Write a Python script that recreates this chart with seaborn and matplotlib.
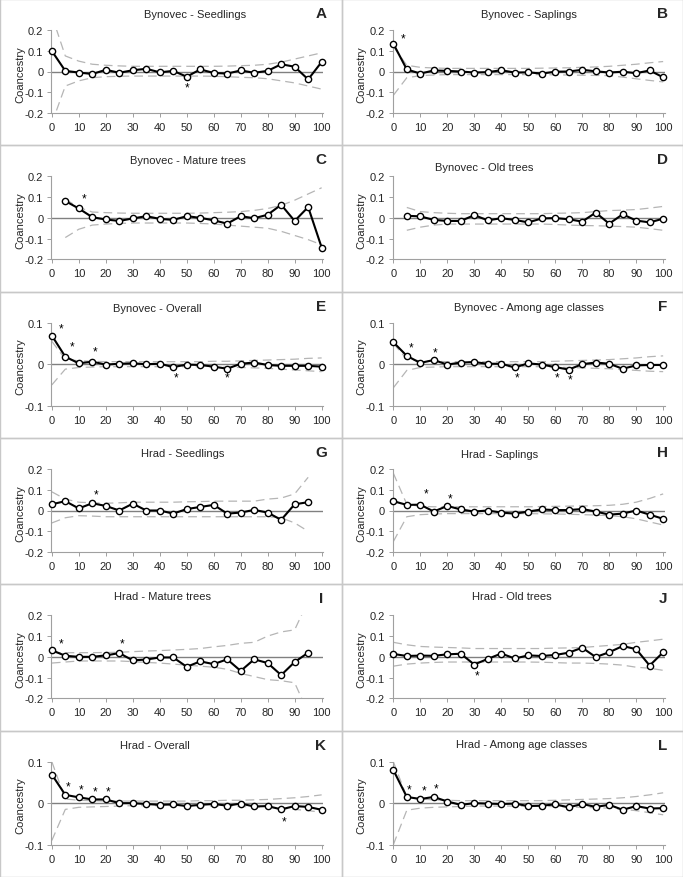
import numpy as np
import pandas as pd
import matplotlib
matplotlib.use("Agg")
import matplotlib.pyplot as plt
import seaborn as sns
from matplotlib.patches import Rectangle

# distance classes (m)
dist_full = [0, 5, 10, 15, 20, 25, 30, 35, 40, 45, 50, 55, 60, 65, 70, 75, 80, 85, 90, 95, 100]
dist_from5 = [5, 10, 15, 20, 25, 30, 35, 40, 45, 50, 55, 60, 65, 70, 75, 80, 85, 90, 95, 100]
dist_to95 = [0, 5, 10, 15, 20, 25, 30, 35, 40, 45, 50, 55, 60, 65, 70, 75, 80, 85, 90, 95]

# ---- Bynovec ----
coan_A = [0.099, 0.003, -0.005, -0.012, 0.008, -0.006, 0.006, 0.013, -0.004, 0.003, -0.025,
          0.010, -0.007, -0.010, 0.005, -0.006, 0.003, 0.035, 0.023, -0.038, 0.046]
up_A = [0.27, 0.075, 0.05, 0.035, 0.03, 0.027, 0.025, 0.025, 0.025, 0.025, 0.025,
        0.025, 0.025, 0.026, 0.028, 0.03, 0.035, 0.045, 0.06, 0.075, 0.09]
lo_A = [-0.25, -0.07, -0.045, -0.03, -0.025, -0.023, -0.022, -0.022, -0.022, -0.022, -0.022,
        -0.022, -0.023, -0.025, -0.028, -0.03, -0.035, -0.045, -0.055, -0.07, -0.085]
star_A = [(50, -0.075)]

coan_B = [0.134, 0.010, -0.010, 0.005, 0.003, 0.000, -0.005, -0.003, 0.006, -0.005, -0.004,
          -0.010, -0.001, 0.000, 0.008, 0.001, -0.005, -0.001, -0.008, 0.005, -0.028]
up_B = [0.12, 0.03, 0.02, 0.017, 0.015, 0.015, 0.015, 0.015, 0.015, 0.015, 0.015,
        0.016, 0.017, 0.018, 0.02, 0.022, 0.025, 0.03, 0.035, 0.042, 0.048]
lo_B = [-0.115, -0.03, -0.02, -0.017, -0.015, -0.015, -0.015, -0.015, -0.015, -0.015, -0.015,
        -0.015, -0.016, -0.017, -0.018, -0.019, -0.02, -0.027, -0.035, -0.043, -0.05]
star_B = [(3.5, 0.16)]

coan_C = [0.081, 0.045, 0.003, -0.008, -0.015, -0.003, 0.008, -0.005, -0.010, 0.008,
          0.000, -0.012, -0.028, 0.008, -0.002, 0.015, 0.063, -0.015, 0.052, -0.143]
up_C = [0.09, 0.05, 0.028, 0.025, 0.023, 0.022, 0.022, 0.022, 0.022, 0.022,
        0.023, 0.025, 0.027, 0.03, 0.036, 0.045, 0.06, 0.085, 0.115, 0.145]
lo_C = [-0.095, -0.055, -0.035, -0.03, -0.027, -0.025, -0.025, -0.025, -0.025, -0.025,
        -0.027, -0.03, -0.035, -0.04, -0.045, -0.05, -0.065, -0.085, -0.105, -0.13]
star_C = [(12, 0.095)]

coan_D = [0.010, 0.007, -0.010, -0.015, -0.015, 0.013, -0.012, -0.002, -0.010, -0.022,
          -0.003, -0.001, -0.007, -0.018, 0.025, -0.028, 0.017, -0.013, -0.022, -0.004]
up_D = [0.05, 0.03, 0.025, 0.022, 0.02, 0.02, 0.02, 0.02, 0.02, 0.02,
        0.02, 0.022, 0.023, 0.025, 0.03, 0.035, 0.037, 0.04, 0.047, 0.055]
lo_D = [-0.06, -0.045, -0.035, -0.03, -0.03, -0.03, -0.03, -0.03, -0.03, -0.03,
        -0.03, -0.032, -0.035, -0.037, -0.038, -0.04, -0.042, -0.045, -0.052, -0.06]
star_D = []

coan_E = [0.069, 0.018, 0.002, 0.006, -0.001, 0.001, 0.002, 0.000, 0.001, -0.007, -0.001,
          -0.002, -0.006, -0.011, 0.001, 0.004, -0.002, -0.004, -0.004, -0.004, -0.006]
up_E = [0.055, 0.012, 0.008, 0.007, 0.006, 0.006, 0.006, 0.006, 0.006, 0.006, 0.006,
        0.006, 0.007, 0.007, 0.008, 0.009, 0.01, 0.011, 0.012, 0.014, 0.015]
lo_E = [-0.05, -0.012, -0.008, -0.007, -0.006, -0.006, -0.006, -0.006, -0.006, -0.006, -0.006,
        -0.006, -0.007, -0.007, -0.008, -0.009, -0.01, -0.012, -0.014, -0.016, -0.018]
star_E = [(3.5, 0.085), (7.5, 0.043), (16, 0.031), (46, -0.031), (65, -0.031)]

coan_F = [0.053, 0.020, 0.003, 0.010, -0.001, 0.004, 0.005, 0.001, 0.001, -0.008, 0.002,
          -0.001, -0.007, -0.013, 0.000, 0.004, 0.001, -0.011, -0.003, -0.002, -0.002]
up_F = [0.05, 0.012, 0.008, 0.007, 0.006, 0.006, 0.006, 0.006, 0.006, 0.006, 0.006,
        0.006, 0.007, 0.008, 0.009, 0.01, 0.011, 0.013, 0.015, 0.018, 0.02]
lo_F = [-0.057, -0.015, -0.008, -0.007, -0.006, -0.006, -0.006, -0.006, -0.006, -0.006, -0.006,
        -0.006, -0.007, -0.008, -0.009, -0.01, -0.011, -0.013, -0.015, -0.017, -0.018]
star_F = [(6.5, 0.04), (15.5, 0.028), (46, -0.031), (60.5, -0.031), (65.5, -0.036)]

# ---- Hrad ----
coan_G = [0.030, 0.045, 0.010, 0.035, 0.022, 0.000, 0.033, 0.000, 0.000, -0.015,
          0.007, 0.017, 0.027, -0.015, -0.010, 0.003, -0.010, -0.045, 0.030, 0.040]
up_G = [0.09, 0.055, 0.04, 0.037, 0.035, 0.037, 0.04, 0.04, 0.04, 0.04,
        0.042, 0.043, 0.045, 0.045, 0.045, 0.045, 0.055, 0.06, 0.08, 0.16]
lo_G = [-0.06, -0.035, -0.025, -0.027, -0.03, -0.03, -0.03, -0.03, -0.03, -0.03,
        -0.03, -0.03, -0.03, -0.03, -0.03, -0.03, -0.03, -0.035, -0.06, -0.1]
star_G = [(16.5, 0.075)]

coan_H = [0.045, 0.027, 0.028, -0.005, 0.022, 0.005, -0.005, 0.000, -0.010, -0.015, -0.005,
          0.005, 0.002, 0.002, 0.007, -0.005, -0.020, -0.015, 0.000, -0.020, -0.040]
up_H = [0.18, 0.03, 0.02, 0.018, 0.018, 0.018, 0.018, 0.018, 0.018, 0.018, 0.018,
        0.019, 0.02, 0.021, 0.022, 0.023, 0.025, 0.03, 0.04, 0.058, 0.08]
lo_H = [-0.15, -0.03, -0.02, -0.017, -0.015, -0.015, -0.015, -0.015, -0.015, -0.015, -0.015,
        -0.016, -0.017, -0.018, -0.02, -0.022, -0.025, -0.03, -0.04, -0.055, -0.07]
star_H = [(12, 0.08), (21, 0.06)]

coan_I = [0.032, 0.005, 0.000, 0.000, 0.007, 0.018, -0.017, -0.013, -0.003, -0.003,
          -0.048, -0.022, -0.035, -0.012, -0.068, -0.012, -0.030, -0.088, -0.025, 0.020]
up_I = [0.02, 0.02, 0.02, 0.02, 0.021, 0.022, 0.025, 0.028, 0.03, 0.033,
        0.036, 0.04, 0.048, 0.055, 0.065, 0.07, 0.1, 0.12, 0.13, 0.27]
lo_I = [-0.03, -0.025, -0.02, -0.02, -0.02, -0.02, -0.023, -0.027, -0.03, -0.035,
        -0.04, -0.045, -0.05, -0.06, -0.08, -0.095, -0.11, -0.115, -0.125, -0.27]
star_I = [(3.5, 0.065), (26, 0.065)]

coan_J = [0.014, 0.004, 0.006, 0.005, 0.012, 0.015, -0.037, -0.010, 0.016, -0.008, 0.007,
          0.004, 0.009, 0.020, 0.044, -0.001, 0.022, 0.052, 0.037, -0.042, 0.022]
up_J = [0.07, 0.058, 0.05, 0.047, 0.045, 0.043, 0.04, 0.04, 0.04, 0.04, 0.04,
        0.04, 0.042, 0.043, 0.045, 0.05, 0.055, 0.06, 0.07, 0.077, 0.085]
lo_J = [-0.045, -0.035, -0.03, -0.027, -0.025, -0.025, -0.025, -0.025, -0.025, -0.025, -0.025,
        -0.026, -0.028, -0.03, -0.03, -0.032, -0.035, -0.04, -0.05, -0.055, -0.065]
star_J = [(31, -0.09)]

coan_K = [0.069, 0.020, 0.014, 0.009, 0.009, 0.000, 0.000, -0.002, -0.004, -0.003, -0.007,
          -0.004, -0.002, -0.006, -0.001, -0.008, -0.007, -0.015, -0.007, -0.009, -0.016]
up_K = [0.1, 0.01, 0.007, 0.006, 0.005, 0.005, 0.005, 0.005, 0.005, 0.005, 0.005,
        0.006, 0.006, 0.007, 0.007, 0.008, 0.009, 0.011, 0.013, 0.016, 0.02]
lo_K = [-0.09, -0.015, -0.01, -0.009, -0.008, -0.007, -0.006, -0.006, -0.006, -0.006, -0.006,
        -0.007, -0.007, -0.008, -0.008, -0.009, -0.01, -0.012, -0.015, -0.018, -0.022]
star_K = [(6, 0.04), (11, 0.034), (16, 0.029), (21, 0.029), (86, -0.043)]

coan_L = [0.080, 0.015, 0.010, 0.015, 0.004, -0.004, 0.000, -0.001, -0.002, -0.001, -0.007,
          -0.006, -0.003, -0.010, -0.002, -0.009, -0.004, -0.016, -0.007, -0.013, -0.012]
up_L = [0.1, 0.015, 0.01, 0.008, 0.007, 0.006, 0.006, 0.006, 0.006, 0.006, 0.006,
        0.006, 0.007, 0.008, 0.009, 0.01, 0.011, 0.013, 0.016, 0.02, 0.025]
lo_L = [-0.1, -0.017, -0.012, -0.01, -0.009, -0.008, -0.007, -0.007, -0.007, -0.007, -0.007,
        -0.008, -0.008, -0.009, -0.01, -0.011, -0.012, -0.015, -0.018, -0.023, -0.028]
star_L = [(6, 0.034), (11.5, 0.03), (16, 0.036)]

titles = ["Bynovec - Seedlings", "Bynovec - Saplings", "Bynovec - Mature trees",
          "Bynovec - Old trees", "Bynovec - Overall", "Bynovec - Among age classes",
          "Hrad - Seedlings", "Hrad - Saplings", "Hrad - Mature trees",
          "Hrad - Old trees", "Hrad - Overall", "Hrad - Among age classes"]
letters = ["A", "B", "C", "D", "E", "F", "G", "H", "I", "J", "K", "L"]

ticks_wide = [-0.2, -0.1, 0, 0.1, 0.2]
ticks_narrow = [-0.1, 0, 0.1]
xticks = [0, 10, 20, 30, 40, 50, 60, 70, 80, 90, 100]

panels = [
    (dist_full, coan_A, up_A, lo_A, star_A, ticks_wide),
    (dist_full, coan_B, up_B, lo_B, star_B, ticks_wide),
    (dist_from5, coan_C, up_C, lo_C, star_C, ticks_wide),
    (dist_from5, coan_D, up_D, lo_D, star_D, ticks_wide),
    (dist_full, coan_E, up_E, lo_E, star_E, ticks_narrow),
    (dist_full, coan_F, up_F, lo_F, star_F, ticks_narrow),
    (dist_to95, coan_G, up_G, lo_G, star_G, ticks_wide),
    (dist_full, coan_H, up_H, lo_H, star_H, ticks_wide),
    (dist_to95, coan_I, up_I, lo_I, star_I, ticks_wide),
    (dist_full, coan_J, up_J, lo_J, star_J, ticks_wide),
    (dist_full, coan_K, up_K, lo_K, star_K, ticks_narrow),
    (dist_full, coan_L, up_L, lo_L, star_L, ticks_narrow),
]

# title x-centre / y inside each cell (pixels), like the Excel layout
title_x = [195, 187, 188, 143, 157, 187, 183, 158, 163, 170, 155, 180]
title_y = [15, 15, 15, 22, 16, 15, 15, 16, 12, 12, 14, 13]

sns.set_style("white")
plt.rcParams['font.family'] = ['Liberation Sans', 'DejaVu Sans']

W_PX, H_PX = 683, 878
fig = plt.figure(figsize=(W_PX / 100, H_PX / 100), dpi=100)
cell_w = W_PX / 2
cell_h = H_PX / 6

for i, (d, coan, up, lo, stars, yt) in enumerate(panels):
    row, col = divmod(i, 2)
    cx = col * cell_w
    cy = row * cell_h
    # cell frame
    fig.add_artist(Rectangle((cx / W_PX, 1 - (cy + cell_h) / H_PX), cell_w / W_PX, cell_h / H_PX,
                             transform=fig.transFigure, fill=False, edgecolor="#c8c8c8", lw=1))
    left, right, top, bottom = 51, 323, 31, 114
    ax = fig.add_axes([(cx + left) / W_PX, 1 - (cy + bottom) / H_PX,
                       (right - left) / W_PX, (bottom - top) / H_PX])
    ax.set_facecolor("none")

    df = pd.DataFrame({"dist": d, "coan": coan, "upper": up, "lower": lo})
    ax.axhline(0, color="#808080", lw=1.0, zorder=1)
    for col_name in ["upper", "lower"]:
        sns.lineplot(data=df, x="dist", y=col_name, ax=ax, color="#b5b5b5", lw=0.9,
                     linestyle=(0, (7, 4)), zorder=2)
    sns.lineplot(data=df, x="dist", y="coan", ax=ax, color="black", lw=1.5, marker="o",
                 markersize=4.5, markerfacecolor="white", markeredgecolor="black",
                 markeredgewidth=1.0, zorder=3, clip_on=False)
    for sx, sy in stars:
        ax.text(sx, sy, "*", ha="center", va="center", fontsize=8.5, color="black")

    ax.set_xlim(-0.3, 100.5)
    ax.set_ylim(yt[0], yt[-1])
    ax.set_yticks(yt)
    ax.set_yticklabels(["0" if v == 0 else f"{v:.1f}" for v in yt], fontsize=8)
    ax.set_xticks(xticks)
    ax.set_xticklabels([str(v) for v in xticks], fontsize=8)
    ax.set_xlabel("")
    ax.set_ylabel("Coancestry", fontsize=8)
    ax.yaxis.set_label_coords(-26 / (right - left), 0.48)
    for s in ["top", "right"]:
        ax.spines[s].set_visible(False)
    for s in ["left", "bottom"]:
        ax.spines[s].set_color("#a0a0a0")
        ax.spines[s].set_linewidth(0.8)
    ax.tick_params(axis="both", direction="out", length=3, width=0.7, color="#a0a0a0",
                   bottom=True, left=True)
    ax.tick_params(axis="x", pad=3.5)
    ax.tick_params(axis="y", pad=2.5)

    fig.text((cx + title_x[i]) / W_PX, 1 - (cy + title_y[i]) / H_PX, titles[i],
             ha="center", va="center", fontsize=8)
    fig.text((cx + 321) / W_PX, 1 - (cy + 14) / H_PX, letters[i],
             ha="center", va="center", fontsize=11, fontweight="bold")

fig.savefig("out.png", dpi=100)
